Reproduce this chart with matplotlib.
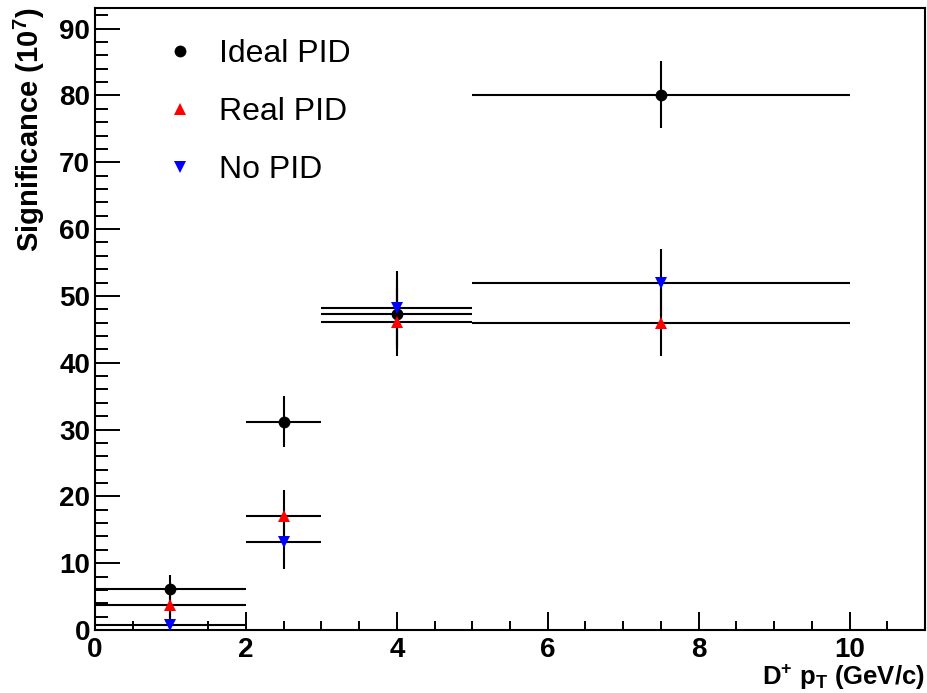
import matplotlib
matplotlib.use('Agg')
import matplotlib.pyplot as plt
from matplotlib.lines import Line2D
from matplotlib.ticker import MultipleLocator
import numpy as np

# bins in D+ pT (GeV/c)
pt_center = np.array([1.0, 2.5, 4.0, 7.5])
pt_low = np.array([0.0, 2.0, 3.0, 5.0])
pt_high = np.array([2.0, 3.0, 5.0, 10.0])

# significance (10^7 events)
ideal_pid = np.array([6.1, 31.2, 47.3, 80.1])
ideal_err = np.array([2.1, 3.8, 5.3, 5.0])
real_pid = np.array([3.7, 17.0, 46.1, 46.0])
real_err = np.array([2.0, 4.0, 5.1, 5.0])
no_pid = np.array([0.8, 13.1, 48.2, 52.0])
no_err = np.array([2.0, 4.0, 5.5, 5.0])

series = [
    ('Ideal PID', ideal_pid, ideal_err, 'o', 'black', 8.5),
    ('Real PID', real_pid, real_err, '^', 'red', 8.5),
    ('No PID', no_pid, no_err, 'v', 'blue', 8.5),
]

plt.rcParams['font.family'] = ['Liberation Sans', 'DejaVu Sans']
plt.rcParams['mathtext.fontset'] = 'custom'
plt.rcParams['mathtext.rm'] = 'Liberation Sans:bold'
plt.rcParams['mathtext.bf'] = 'Liberation Sans:bold'
plt.rcParams['mathtext.default'] = 'bf'

fig = plt.figure(figsize=(9.27, 6.93), dpi=100)
ax = fig.add_axes([0.1025, 0.0909, 0.8953, 0.8976])

xerr = [pt_center - pt_low, pt_high - pt_center]

# error bars first (all black), markers on top
for name, y, err, mk, col, ms in series:
    ax.errorbar(pt_center, y, xerr=xerr, yerr=err, fmt='none',
                ecolor='black', elinewidth=1.5, capsize=0, zorder=2)
for name, y, err, mk, col, ms in series:
    ax.plot(pt_center, y, linestyle='none', marker=mk, color=col,
            markersize=ms, markeredgewidth=0, zorder=3)

ax.set_xlim(0, 11)
ax.set_ylim(0, 93.1)

ax.xaxis.set_major_locator(MultipleLocator(2))
ax.xaxis.set_minor_locator(MultipleLocator(0.5))
ax.yaxis.set_major_locator(MultipleLocator(10))
ax.yaxis.set_minor_locator(MultipleLocator(2))
ax.yaxis.set_major_formatter(plt.FormatStrFormatter('%d'))
ax.tick_params(axis='both', which='both', direction='in', width=1.4,
               top=False, right=False, labelsize=20)
ax.tick_params(axis='x', which='major', length=13, pad=5)
ax.tick_params(axis='x', which='minor', length=6.5)
ax.tick_params(axis='y', which='major', length=18, pad=3.5)
ax.tick_params(axis='y', which='minor', length=9)
for lab in ax.get_xticklabels() + ax.get_yticklabels():
    lab.set_fontweight('bold')
for sp in ax.spines.values():
    sp.set_linewidth(1.5)

ax.set_ylabel('Significance (10$^{7}$)', fontsize=21, fontweight='bold', loc='top')
ax.yaxis.set_label_coords(-0.058, 1.0)
ax.set_xlabel('D$^{+}$ p$_{T}$ (GeV/c)', fontsize=18.5, fontweight='bold', loc='right')
ax.xaxis.set_label_coords(1.0, -0.053)

handles = [Line2D([], [], linestyle='none', marker=mk, color=col,
                  markersize=ms, markeredgewidth=0)
           for name, y, err, mk, col, ms in series]
labels = [s[0] for s in series]
ax.legend(handles, labels, loc='upper left', bbox_to_anchor=(0.048, 0.996),
          frameon=False, fontsize=23, labelspacing=0.87, handletextpad=0.72,
          handlelength=1.0)

fig.savefig('out.png', dpi=100)
